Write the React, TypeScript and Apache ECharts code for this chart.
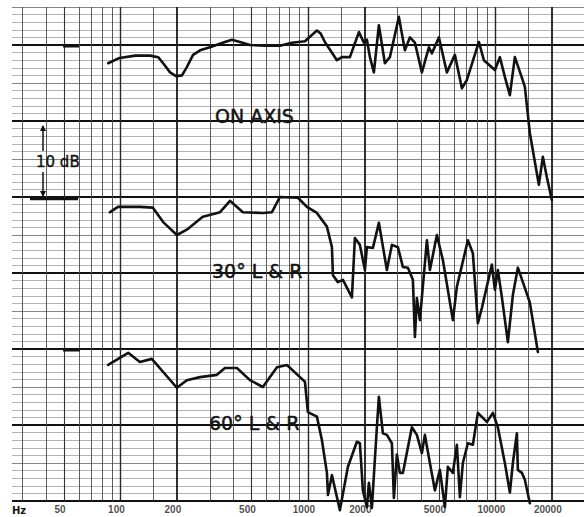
import { useEffect, useRef } from 'react';
import * as echarts from 'echarts';

// ---- Data (frequency in Hz, level in dB on the chart's own scale) ----
const ON_AXIS_FREQ = [86, 99, 120, 144, 159, 169, 184, 198, 213, 226, 244, 266, 300, 361, 393, 434, 491, 590, 709, 822, 964, 1117, 1170, 1232, 1428, 1518, 1675, 1871, 1990, 2064, 2142, 2249, 2391, 2574, 2737, 3057, 3291, 3499, 3722, 4055, 4419, 4584, 4996, 5512, 6081, 6627, 7047, 8166, 8684, 9939, 10568, 11236, 11950, 12706, 13847, 14367, 15276, 17061, 17920, 18822, 20010];
const ON_AXIS_DB = [57.6, 58.3, 58.6, 58.6, 58.4, 57.6, 56.4, 55.9, 56.0, 57.1, 58.7, 59.3, 59.7, 60.4, 60.7, 60.4, 60.0, 59.9, 59.9, 60.3, 60.5, 61.9, 61.5, 60.4, 58.0, 58.4, 58.4, 61.7, 60.3, 60.7, 58.4, 56.4, 62.6, 57.6, 58.4, 63.7, 59.3, 61.0, 60.3, 56.4, 59.7, 58.9, 61.0, 56.4, 58.7, 54.3, 55.4, 60.4, 58.0, 56.7, 58.4, 55.8, 53.4, 58.4, 55.7, 54.5, 48.4, 41.6, 45.3, 42.6, 39.6];

const DEG30_FREQ = [88, 97, 127, 149, 169, 200, 226, 275, 340, 384, 450, 575, 643, 709, 885, 988, 1117, 1263, 1343, 1360, 1445, 1537, 1717, 1781, 1894, 2014, 2064, 2222, 2391, 2638, 2805, 3020, 3211, 3415, 3631, 3722, 3813, 3957, 4313, 4475, 4875, 5248, 5934, 6233, 7134, 7586, 8066, 8472, 9579, 9939, 10311, 10834, 11659, 12397, 13183, 14018, 15276, 16858];
const DEG30_DB = [38.0, 38.7, 38.7, 38.6, 36.7, 35.0, 35.7, 37.4, 38.0, 39.5, 38.0, 37.9, 38.0, 40.0, 39.9, 38.7, 37.9, 36.1, 33.4, 29.7, 28.8, 29.1, 26.8, 34.6, 33.7, 30.4, 33.4, 33.3, 36.6, 30.4, 33.7, 33.4, 30.8, 30.7, 29.1, 21.6, 26.7, 23.8, 34.3, 30.4, 35.0, 31.7, 23.8, 28.2, 34.3, 32.6, 23.4, 25.4, 31.1, 27.8, 30.4, 26.8, 20.9, 27.1, 30.7, 28.8, 26.1, 19.6];

const DEG60_FREQ = [86, 110, 127, 147, 200, 226, 266, 327, 361, 418, 491, 575, 684, 773, 907, 964, 1000, 1117, 1188, 1263, 1279, 1343, 1481, 1635, 1825, 1894, 1965, 2064, 2115, 2194, 2333, 2391, 2512, 2638, 2805, 2875, 2983, 3095, 3211, 3586, 3813, 4055, 4207, 4475, 4757, 5058, 5378, 5580, 5934, 6233, 6466, 6709, 7134, 7586, 8066, 9010, 9698, 10311, 11236, 11950, 12397, 13022, 13183, 13847, 14367, 15276];
const DEG60_DB = [17.9, 19.5, 18.3, 18.7, 14.9, 15.9, 16.3, 16.6, 17.5, 17.5, 15.9, 15.0, 17.6, 17.9, 16.3, 15.7, 11.7, 11.1, 8.0, 3.7, 0.8, 3.4, -1.2, 4.5, 7.8, 7.6, 1.4, -0.8, 2.4, -0.9, 9.7, 13.7, 8.9, 8.7, 7.6, 0.4, 6.1, 3.7, 3.7, 9.7, 8.7, 6.3, 8.7, 5.0, 1.4, 4.1, -0.8, 4.5, 3.7, 7.4, 0.5, 5.0, 7.6, 7.4, 11.6, 10.4, 11.6, 9.7, 5.0, 1.1, 5.0, 8.9, 4.1, 3.7, 2.8, -0.3];

const CURVE_LABELS = ['ON AXIS', '30° L & R', '60° L & R'];
const TICK_FREQS = [50, 100, 200, 500, 1000, 2000, 5000, 10000, 20000];
const TICK_LABELS = ['50', '100', '200', '500', '1000', '2000', '5000', '10000', '20000'];
const GRID_DECADES = [10, 100, 1000, 10000];
const GRID_MULTIPLIERS = [1, 1.5, 2, 3, 4, 5, 6, 7, 8, 9];
const X_MIN = 26.4;
const X_MAX = 29700;
const Y_MIN = 0;
const Y_MAX = 65;

const zip = (f: number[], d: number[]) => f.map((v, i) => [v, d[i]]);

export default function App() {
  const ref = useRef<HTMLDivElement>(null);

  useEffect(() => {
    const chart = echarts.init(ref.current!, null, { renderer: 'svg' });

    const vLines: any[] = [];
    GRID_DECADES.forEach((d) =>
      GRID_MULTIPLIERS.forEach((m) => {
        const f = d * m;
        if (f < X_MIN || f > X_MAX) return;
        const ls =
          m === 2
            ? { color: '#1a1a1a', width: 1.8 }
            : m === 1
            ? { color: '#262626', width: 1.4 }
            : m === 5
            ? { color: '#333', width: 1.1 }
            : { color: '#4a4a4a', width: 0.9 };
        vLines.push({ xAxis: f, lineStyle: { ...ls, type: 'solid' } });
      })
    );
    const hLines: any[] = [];
    for (let v = Y_MIN; v <= Y_MAX; v++) {
      const ls =
        v % 10 === 0
          ? { color: '#111', width: 2 }
          : v % 5 === 0
          ? { color: '#777', width: 0.9 }
          : { color: '#a0a0a0', width: 0.8 };
      hLines.push({ yAxis: v, lineStyle: { ...ls, type: 'solid' } });
    }

    const curve = (name: string, f: number[], d: number[]) => ({
      name,
      type: 'line',
      data: zip(f, d),
      showSymbol: false,
      symbol: 'none',
      clip: false,
      z: 5,
      lineStyle: { color: '#111', width: 2.6, join: 'round', cap: 'round' },
      emphasis: { disabled: true },
    });

    const font = 'DejaVu Sans';
    const txt = (text: string, x: number, y: number, size: number, weight = 'normal', stroke = 0.5) => ({
      type: 'text',
      x,
      y,
      z: 10,
      style: {
        text,
        fontSize: size,
        fontFamily: font,
        fontWeight: weight,
        fill: '#151515',
        stroke: '#151515',
        lineWidth: stroke,
        verticalAlign: 'top',
      },
    });
    const seg = (x1: number, y1: number, x2: number, y2: number, w: number) => ({
      type: 'line',
      z: 10,
      shape: { x1, y1, x2, y2 },
      style: { stroke: '#111', lineWidth: w },
    });

    chart.setOption({
      animation: false,
      backgroundColor: '#ffffff',
      grid: { left: 12, right: 0, top: 7, bottom: 16 },
      xAxis: {
        type: 'log',
        logBase: 10,
        min: X_MIN,
        max: X_MAX,
        axisLine: { show: false },
        axisTick: { show: false },
        axisLabel: { show: false },
        splitLine: { show: false },
      },
      yAxis: {
        type: 'value',
        min: Y_MIN,
        max: Y_MAX,
        axisLine: { show: false },
        axisTick: { show: false },
        axisLabel: { show: false },
        splitLine: { show: false },
      },
      series: [
        {
          type: 'line',
          data: [[1000, 30]],
          symbol: 'none',
          lineStyle: { opacity: 0 },
          z: 1,
          silent: true,
          markLine: {
            silent: true,
            symbol: ['none', 'none'],
            label: { show: false },
            emphasis: { disabled: true },
            data: [...hLines, ...vLines],
          },
        },
        {
          type: 'scatter',
          data: TICK_FREQS.map((f) => [f, Y_MIN]),
          symbolSize: 0.1,
          itemStyle: { color: 'transparent' },
          silent: true,
          z: 2,
          label: {
            show: true,
            position: 'bottom',
            distance: 3,
            offset: [-4, 0],
            formatter: (p: any) => TICK_LABELS[p.dataIndex],
            fontSize: 10,
            fontWeight: 'bold',
            fontFamily: 'Liberation Sans',
            color: '#222',
          },
        },
        curve(CURVE_LABELS[0], ON_AXIS_FREQ, ON_AXIS_DB),
        curve(CURVE_LABELS[1], DEG30_FREQ, DEG30_DB),
        curve(CURVE_LABELS[2], DEG60_FREQ, DEG60_DB),
      ],
      graphic: [
        txt(CURVE_LABELS[0], 215, 106, 19),
        txt(CURVE_LABELS[1], 212, 261, 19),
        txt(CURVE_LABELS[2], 209, 413, 19),
        txt('10 dB', 36, 154, 15, 'normal', 0.4),
        txt('Hz', 12, 505, 10, 'bold', 0),
        seg(43, 126, 43, 151, 1.5),
        seg(43, 172, 43, 196, 1.5),
        { type: 'polygon', z: 10, shape: { points: [[40, 131], [46, 131], [43, 125]] }, style: { fill: '#111' } },
        { type: 'polygon', z: 10, shape: { points: [[40, 191], [46, 191], [43, 197]] }, style: { fill: '#111' } },
        seg(30, 199, 78, 199, 2.6),
        seg(63, 46, 79, 46, 3),
        seg(63, 350, 80, 350, 3),
      ],
    });

    return () => chart.dispose();
  }, []);

  return (
    <div
      ref={ref}
      style={{ position: 'absolute', left: 0, top: 0, width: 584, height: 517, background: '#fff' }}
    />
  );
}
